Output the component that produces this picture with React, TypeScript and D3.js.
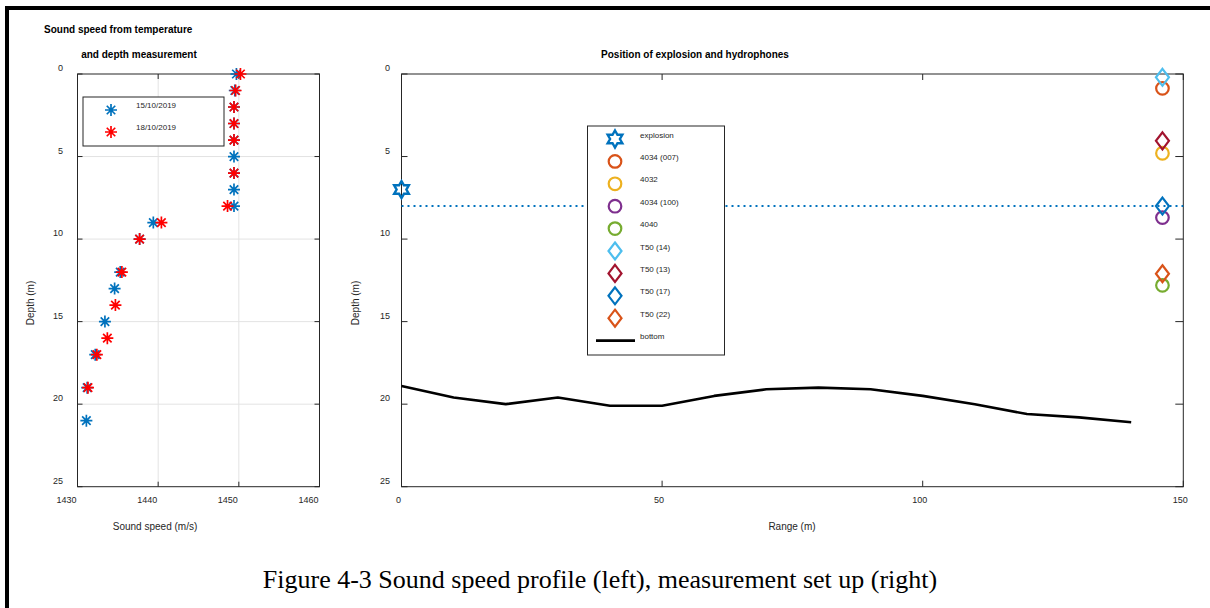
import React from "react";
import * as d3 from "d3";

// ---------- data ----------
const blueDepth = [0, 1, 2, 3, 4, 5, 6, 7, 8, 9, 10, 12, 13, 15, 17, 19, 21];
const blueSpeed = [1449.7, 1449.5, 1449.4, 1449.4, 1449.4, 1449.4, 1449.4, 1449.4, 1449.4, 1439.4, 1437.7, 1435.3, 1434.6, 1433.4, 1432.2, 1431.2, 1431.1];
const redDepth = [0, 1, 2, 3, 4, 6, 8, 9, 10, 12, 14, 16, 17, 19];
const redSpeed = [1450.2, 1449.6, 1449.4, 1449.4, 1449.4, 1449.4, 1448.6, 1440.4, 1437.7, 1435.5, 1434.7, 1433.7, 1432.4, 1431.3];

const speedTicks = [1430, 1440, 1450, 1460];
const depthTicks = [0, 5, 10, 15, 20, 25];
const rangeTicks = [0, 50, 100, 150];

const bottomRange = [0, 10, 20, 30, 40, 50, 60, 70, 80, 90, 100, 110, 120, 130, 140];
const bottomDepth = [18.9, 19.6, 20.0, 19.6, 20.1, 20.1, 19.5, 19.1, 19.0, 19.1, 19.5, 20.0, 20.6, 20.8, 21.1];

const explosionRange = 0;
const explosionDepth = 7;
const explosionLineDepth = 8;

const hydroNames = ["4034 (007)", "4032", "4034 (100)", "4040", "T50 (14)", "T50 (13)", "T50 (17)", "T50 (22)"];
const hydroShapes = ["circle", "circle", "circle", "circle", "diamond", "diamond", "diamond", "diamond"];
const hydroColors = ["#D95319", "#EDB120", "#7E2F8E", "#77AC30", "#4DBEEE", "#A2142F", "#0072BD", "#D95319"];
const hydroRange = [146, 146, 146, 146, 146, 146, 146, 146];
const hydroDepth = [0.87, 4.8, 8.7, 12.8, 0.2, 4.05, 8.0, 12.1];

// ---------- helpers ----------
const FONT = "'Liberation Sans', Arial, Helvetica, sans-serif";
const AX = "#262626";
const BLUE = "#0072BD";
const RED = "#FF0000";

function asterisk(cx: number, cy: number, R = 6) {
  const d = R * 0.707;
  return `M${cx - R},${cy}L${cx + R},${cy}M${cx},${cy - R}L${cx},${cy + R}M${cx - d},${cy - d}L${cx + d},${cy + d}M${cx - d},${cy + d}L${cx + d},${cy - d}`;
}
function hexagram(cx: number, cy: number, R = 8.5) {
  const r = R / Math.sqrt(3);
  const pts: [number, number][] = [];
  for (let i = 0; i < 12; i++) {
    const a = -Math.PI / 2 + (i * Math.PI) / 6;
    const rr = i % 2 === 0 ? R : r;
    pts.push([cx + rr * Math.cos(a), cy + rr * Math.sin(a)]);
  }
  return d3.line()(pts) + "Z";
}
function diamond(cx: number, cy: number, w = 6.5, h = 8.5) {
  return `M${cx},${cy - h}L${cx + w},${cy}L${cx},${cy + h}L${cx - w},${cy}Z`;
}
function HydroMarker({ shape, x, y, color }: { shape: string; x: number; y: number; color: string }) {
  if (shape === "circle") return <circle cx={x} cy={y} r={6.3} fill="none" stroke={color} strokeWidth={2.2} />;
  return <path d={diamond(x, y)} fill="none" stroke={color} strokeWidth={2.2} />;
}

export default function App() {
  const W = 1210, H = 608;
  const depthY = d3.scaleLinear().domain([0, 25]).range([74, 486.7]);
  const speedX = d3.scaleLinear().domain([1430, 1460]).range([77.5, 319.5]);
  const rangeX = d3.scaleLinear().domain([0, 150]).range([401.5, 1183.3]);

  const [lx0, lx1] = speedX.range();
  const [ry0, ry1] = depthY.range();
  const [rx0, rx1] = rangeX.range();

  const bottomLine = d3.line<number>()
    .x((_, i) => rangeX(bottomRange[i]))
    .y((_, i) => depthY(bottomDepth[i]))(bottomRange);

  const legendRows = ["explosion", ...hydroNames, "bottom"];
  const legY0 = 139, legStep = 22.4;
  const astW = 1.7;

  return (
    <svg width={W} height={H} style={{ position: "absolute", left: 0, top: 0, background: "#fff" }} fontFamily={FONT}>
      <rect x={0} y={0} width={W} height={H} fill="#fff" />
      {/* outer frame */}
      <line x1={7} y1={6} x2={7} y2={H} stroke="#000" strokeWidth={4} />
      <line x1={5} y1={8} x2={W} y2={8} stroke="#000" strokeWidth={4} />

      {/* ---------- LEFT PLOT ---------- */}
      <text x={44} y={33} fontSize={10} fontWeight="bold" fill="#000">Sound speed from temperature</text>
      <text x={139} y={58} fontSize={10} fontWeight="bold" fill="#000" textAnchor="middle">and depth measurement</text>
      {speedTicks.slice(1, -1).map((t) => (
        <line key={"gx" + t} x1={speedX(t)} x2={speedX(t)} y1={ry0} y2={ry1} stroke="#e3e3e3" strokeWidth={1} />
      ))}
      {depthTicks.slice(1, -1).map((t) => (
        <line key={"gy" + t} x1={lx0} x2={lx1} y1={depthY(t)} y2={depthY(t)} stroke="#e3e3e3" strokeWidth={1} />
      ))}
      {depthTicks.map((t) => (
        <g key={"lt" + t}>
          <line x1={lx0} x2={lx0 + 5} y1={depthY(t)} y2={depthY(t)} stroke={AX} />
          <line x1={lx1} x2={lx1 - 5} y1={depthY(t)} y2={depthY(t)} stroke={AX} />
          <text x={63} y={depthY(t) - 6} fontSize={9} fill={AX} textAnchor="end" dominantBaseline="central">{t}</text>
        </g>
      ))}
      {speedTicks.map((t) => (
        <g key={"lxt" + t}>
          <line x1={speedX(t)} x2={speedX(t)} y1={ry1} y2={ry1 - 5} stroke={AX} />
          <line x1={speedX(t)} x2={speedX(t)} y1={ry0} y2={ry0 + 5} stroke={AX} />
          <text x={speedX(t) - 11} y={ry1 + 13} fontSize={9} fill={AX} textAnchor="middle" dominantBaseline="central">{t}</text>
        </g>
      ))}
      <rect x={lx0} y={ry0} width={lx1 - lx0} height={ry1 - ry0} fill="none" stroke={AX} strokeWidth={1} />
      <text x={155} y={526} fontSize={10} fill={AX} textAnchor="middle" dominantBaseline="central">Sound speed (m/s)</text>
      <text transform={`translate(30,303) rotate(-90)`} fontSize={10} fill={AX} textAnchor="middle" dominantBaseline="central">Depth (m)</text>
      {blueDepth.map((d, i) => (
        <path key={"b" + i} d={asterisk(speedX(blueSpeed[i]), depthY(d))} stroke={BLUE} strokeWidth={astW} fill="none" />
      ))}
      {redDepth.map((d, i) => (
        <path key={"r" + i} d={asterisk(speedX(redSpeed[i]), depthY(d))} stroke={RED} strokeWidth={astW} fill="none" />
      ))}
      <rect x={83} y={97} width={141} height={49} fill="#fff" stroke={AX} strokeWidth={1} />
      <path d={asterisk(111, 110)} stroke={BLUE} strokeWidth={astW} fill="none" />
      <path d={asterisk(111, 132)} stroke={RED} strokeWidth={astW} fill="none" />
      <text x={136} y={105.5} fontSize={8} fill={AX} dominantBaseline="central">15/10/2019</text>
      <text x={136} y={127} fontSize={8} fill={AX} dominantBaseline="central">18/10/2019</text>

      {/* ---------- RIGHT PLOT ---------- */}
      <text x={695} y={58} fontSize={10} fontWeight="bold" fill="#000" textAnchor="middle">Position of explosion and hydrophones</text>
      {depthTicks.map((t) => (
        <g key={"rt" + t}>
          <line x1={rx0} x2={rx0 + 6} y1={depthY(t)} y2={depthY(t)} stroke={AX} />
          <line x1={rx1} x2={rx1 - 8} y1={depthY(t)} y2={depthY(t)} stroke={AX} />
          <text x={390} y={depthY(t) - 6} fontSize={9} fill={AX} textAnchor="end" dominantBaseline="central">{t}</text>
        </g>
      ))}
      {rangeTicks.map((t) => (
        <g key={"rxt" + t}>
          <line x1={rangeX(t)} x2={rangeX(t)} y1={ry1} y2={ry1 - 6} stroke={AX} />
          <line x1={rangeX(t)} x2={rangeX(t)} y1={ry0} y2={ry0 + 6} stroke={AX} />
          <text x={rangeX(t) - 3} y={ry1 + 13} fontSize={9} fill={AX} textAnchor="middle" dominantBaseline="central">{t}</text>
        </g>
      ))}
      <rect x={rx0} y={ry0} width={rx1 - rx0} height={ry1 - ry0} fill="none" stroke={AX} strokeWidth={1} />
      <text x={792} y={526} fontSize={10} fill={AX} textAnchor="middle" dominantBaseline="central">Range (m)</text>
      <text transform={`translate(355,303) rotate(-90)`} fontSize={10} fill={AX} textAnchor="middle" dominantBaseline="central">Depth (m)</text>

      <path d={bottomLine || ""} fill="none" stroke="#000" strokeWidth={2.6} strokeLinejoin="round" />
      <line x1={rangeX(explosionRange)} x2={rx1} y1={depthY(explosionLineDepth)} y2={depthY(explosionLineDepth)} stroke={BLUE} strokeWidth={2} strokeDasharray="2,4" />
      <path d={hexagram(rangeX(explosionRange), depthY(explosionDepth))} fill="none" stroke={BLUE} strokeWidth={2.4} strokeLinejoin="miter" />
      {hydroNames.map((n, i) => (
        <HydroMarker key={n + i} shape={hydroShapes[i]} x={rangeX(hydroRange[i])} y={depthY(hydroDepth[i])} color={hydroColors[i]} />
      ))}

      <rect x={587.5} y={126} width={137} height={229} fill="#fff" stroke={AX} strokeWidth={1} />
      {legendRows.map((name, i) => {
        const y = legY0 + i * legStep;
        let marker: React.ReactNode;
        if (i === 0) marker = <path d={hexagram(615, y)} fill="none" stroke={BLUE} strokeWidth={2.4} />;
        else if (i === legendRows.length - 1) marker = <line x1={596} x2={635} y1={y} y2={y} stroke="#000" strokeWidth={2.6} />;
        else marker = <HydroMarker shape={hydroShapes[i - 1]} x={615} y={y} color={hydroColors[i - 1]} />;
        return (
          <g key={"leg" + i}>
            {marker}
            <text x={640} y={y - 4} fontSize={8} fill={AX} dominantBaseline="central">{name}</text>
          </g>
        );
      })}

      <text x={600} y={588} fontSize={26} fontFamily="'Liberation Serif', 'Times New Roman', serif" fill="#000" textAnchor="middle">
        Figure 4-3 Sound speed profile (left), measurement set up (right)
      </text>
    </svg>
  );
}
